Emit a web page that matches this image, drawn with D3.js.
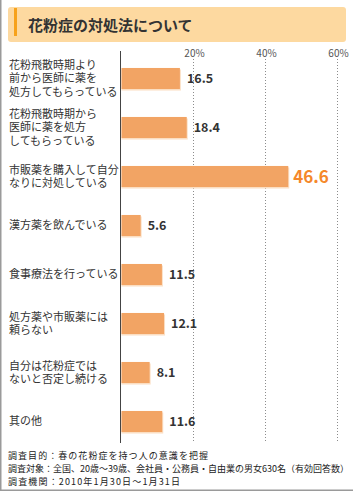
<!DOCTYPE html>
<html>
<head>
<meta charset="utf-8">
<script src="https://cdn.jsdelivr.net/npm/d3@7"></script>
<style>
  html, body { margin: 0; padding: 0; background: #fff; }
  svg { display: block; font-family: "Noto Sans CJK JP", "Noto Sans", sans-serif; }
</style>
</head>
<body>
<svg id="chart" width="353" height="492"></svg>
<script>
// --- data
const title = "花粉症の対処法について";
const categories = [
  ["花粉飛散時期より", "前から医師に薬を", "処方してもらっている"],
  ["花粉飛散時期から", "医師に薬を処方", "してもらっている"],
  ["市販薬を購入して自分", "なりに対処している"],
  ["漢方薬を飲んでいる"],
  ["食事療法を行っている"],
  ["処方薬や市販薬には", "頼らない"],
  ["自分は花粉症では", "ないと否定し続ける"],
  ["其の他"]
];
const values = [16.5, 18.4, 46.6, 5.6, 11.5, 12.1, 8.1, 11.6];
const ticks = [20, 40, 60];
const notes = [
  "調査目的：春の花粉症を持つ人の意識を把握",
  "調査対象：全国、20歳〜39歳、会社員・公務員・自由業の男女630名（有効回答数）",
  "調査機関：2010年1月30日〜1月31日"
];

const svg = d3.select("#chart");
const W = +svg.attr("width"), H = +svg.attr("height");

// frame (left + bottom)
svg.append("line").attr("x1", 0.75).attr("x2", 0.75).attr("y1", 0).attr("y2", H - 1.5)
  .attr("stroke", "#9a9a9a").attr("stroke-width", 1.5);
svg.append("line").attr("x1", 0).attr("x2", W).attr("y1", H - 1.75).attr("y2", H - 1.75)
  .attr("stroke", "#9a9a9a").attr("stroke-width", 1.5);

// title box
svg.append("rect").attr("x", 8).attr("y", 7).attr("width", 338).attr("height", 35)
  .attr("rx", 3).attr("fill", "#fdd9a0");
svg.append("rect").attr("x", 14).attr("y", 8).attr("width", 3).attr("height", 28)
  .attr("fill", "#f7a21b");
svg.append("text").attr("x", 28).attr("y", 31)
  .style("font-size", "15px").style("font-weight", "bold").attr("fill", "#333")
  .text(title);

// scales
const x = d3.scaleLinear().domain([0, 60]).range([120.5, 336.5]);
const y = d3.scaleBand().domain(d3.range(values.length)).range([54, 446])
  .paddingInner(0.57).paddingOuter(0.285);

// gridlines + tick labels
const grid = svg.append("g");
grid.selectAll("line").data(ticks).join("line")
  .attr("x1", d => Math.round(x(d)) + 0.5).attr("x2", d => Math.round(x(d)) + 0.5)
  .attr("y1", 59).attr("y2", 443)
  .attr("stroke", "#8c8c8c").attr("stroke-dasharray", "1,2");
grid.selectAll("text").data(ticks).join("text")
  .attr("x", d => x(d) + 2).attr("y", 57).attr("text-anchor", "middle")
  .style("font-size", "10px").attr("fill", "#555")
  .text(d => d + "%");

// axis line
svg.append("line").attr("x1", 120.5).attr("x2", 120.5).attr("y1", 51).attr("y2", 443)
  .attr("stroke", "#444").attr("stroke-width", 1);

// bars (pale under-edge + body)
const bars = svg.append("g");
bars.selectAll("rect.sh").data(values).join("rect").attr("class", "sh")
  .attr("x", x(0) + 1).attr("y", (d, i) => y(i) + 1.5)
  .attr("width", d => x(d) - x(0)).attr("height", y.bandwidth())
  .attr("fill", "#fbe0c6");
bars.selectAll("rect.bar").data(values).join("rect").attr("class", "bar")
  .attr("x", x(0) + 1).attr("y", (d, i) => y(i))
  .attr("width", d => x(d) - x(0) - 1).attr("height", y.bandwidth())
  .attr("fill", "#f2a464");

// value labels
const maxV = d3.max(values);
svg.append("g").selectAll("text").data(values).join("text")
  .attr("x", d => x(d) + (d === maxV ? 5 : 7))
  .attr("y", (d, i) => y(i) + y.bandwidth() / 2)
  .attr("dy", "0.36em")
  .style("font-size", d => d === maxV ? "17px" : "12.5px")
  .style("font-weight", "bold")
  .attr("fill", d => d === maxV ? "#f5882a" : "#333")
  .text(d => d.toFixed(1));

// category labels
const LH = 13.4;
const cat = svg.append("g").selectAll("text").data(categories).join("text")
  .attr("x", 9)
  .attr("y", (d, i) => y(i) + y.bandwidth() / 2 - (d.length - 1) * LH / 2)
  .style("font-size", "11px").attr("fill", "#333");
cat.selectAll("tspan").data(d => d).join("tspan")
  .attr("x", 9).attr("dy", (d, j) => j === 0 ? "0.36em" : LH)
  .text(d => d);

// footer notes: size the font so the longest line fits the frame
const noteW = [200, 341, 172];
const foot = svg.append("g").selectAll("text").data(notes).join("text")
  .attr("x", 8).attr("y", (d, i) => 459 + i * 13)
  .style("font-size", "10.5px").attr("fill", "#222")
  .text(d => d);
const longest = foot.nodes()[1].getComputedTextLength();
const fs = Math.min(10.5, 10.5 * noteW[1] / longest);
foot.style("font-size", fs + "px")
  .each(function (d, i) {
    const n = this.getComputedTextLength();
    if (n < noteW[i]) d3.select(this).attr("textLength", noteW[i]).attr("lengthAdjust", "spacing");
  });
</script>
</body>
</html>
